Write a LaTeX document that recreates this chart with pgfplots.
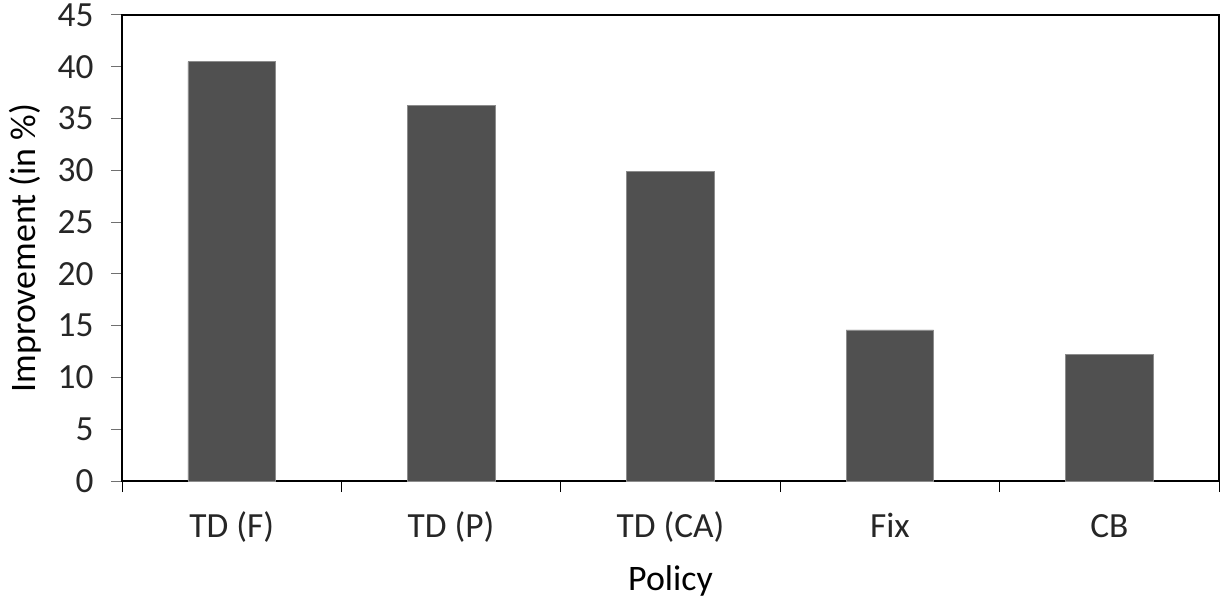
\documentclass[border=0pt]{standalone}
\usepackage{fontspec}
\setmainfont{Carlito}
\usepackage{pgfplots}
\pgfplotsset{compat=1.18}
\definecolor{barfill}{HTML}{505050}
\definecolor{baredge}{HTML}{8C8C8C}
\definecolor{tickgray}{HTML}{707070}
\begin{document}
\begin{tikzpicture}[x=1bp,y=1bp]
\begin{axis}[
  name=ax,
  scale only axis,
  width=1097bp, height=466bp,
  xmin=-0.5, xmax=4.5,
  ymin=0, ymax=45,
  ytick={0,5,...,45},
  xtick={-0.5,0.5,1.5,2.5,3.5,4.5},
  x tick label as interval,
  xticklabels={TD (F),TD (P),TD (CA),Fix,CB},
  xtick pos=bottom, ytick pos=left,
  x tick style={black, line width=0.8bp},
  y tick style={tickgray, line width=1bp},
  major tick length=11bp,
  tick align=outside,
  axis line style={black, line width=1.2bp},
  ticklabel style={font=\fontsize{35.5}{40}\selectfont, text=black!85},
  /pgf/number format/assume math mode=true,
  yticklabel style={xshift=-14bp},
  xticklabel style={yshift=-34bp, text height=0.75em, text depth=0.25em},
  xlabel={Policy},
  ylabel={Improvement (in \%)},
  label style={font=\fontsize{36}{42}\selectfont},
  xlabel style={yshift=-19bp},
  ylabel style={yshift=10bp},
  ybar,
  bar width=87.5bp,
  clip=false,
]
\addplot[fill=barfill, draw=baredge, line width=0.6bp] coordinates {
  (0,40.5) (1,36.3) (2,29.9) (3,14.6) (4,12.2)
};
\end{axis}
\path ([xshift=-122bp,yshift=-117bp]ax.south west) rectangle ([xshift=2bp,yshift=15bp]ax.north east);
\end{tikzpicture}
\end{document}
